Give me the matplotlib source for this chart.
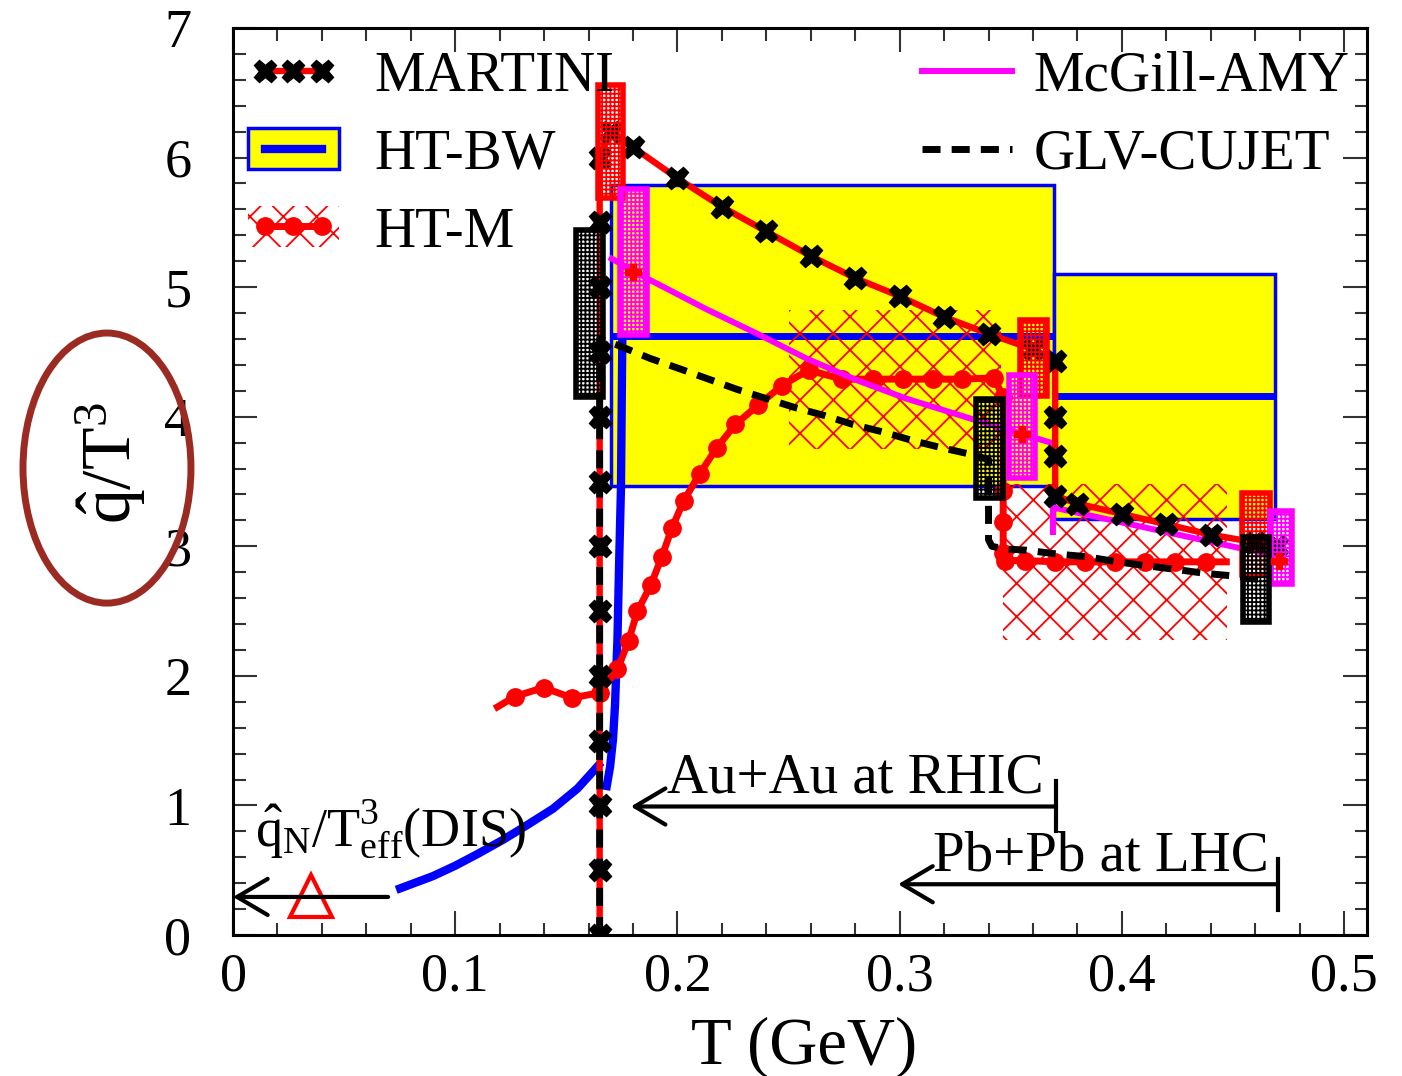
"""
qhat/T^3 vs T for several jet-quenching models (MARTINI, HT-BW, HT-M,
McGill-AMY, GLV-CUJET), values read off the reference figure.
"""

import matplotlib
matplotlib.use("Agg")
import matplotlib.pyplot as plt
from matplotlib.patches import Rectangle, Ellipse
from matplotlib.lines import Line2D
from matplotlib.legend_handler import HandlerTuple

plt.rcParams["font.family"] = ["Liberation Serif", "DejaVu Serif"]
plt.rcParams["mathtext.fontset"] = "custom"
plt.rcParams["mathtext.rm"] = "Liberation Serif"
plt.rcParams["mathtext.it"] = "Liberation Serif:italic"
plt.rcParams["hatch.linewidth"] = 1.3

# -------------------------
# Data (T in GeV, qhat/T^3)
# -------------------------
martini_T = [0.165, 0.165, 0.165, 0.165, 0.165, 0.165, 0.165, 0.165, 0.165,
             0.165, 0.165, 0.165, 0.165, 0.170, 0.180, 0.200, 0.220, 0.240,
             0.260, 0.280, 0.300, 0.320, 0.340, 0.360, 0.370, 0.370, 0.370,
             0.370, 0.380, 0.400, 0.420, 0.440, 0.460, 0.470]
martini_q = [0.0, 0.5, 1.0, 1.5, 2.0, 2.5, 3.0, 3.5, 4.0, 4.5, 5.0, 5.5, 6.0,
             6.20, 6.08, 5.84, 5.62, 5.43, 5.24, 5.07, 4.93, 4.77, 4.64, 4.52,
             4.43, 4.00, 3.70, 3.39, 3.33, 3.25, 3.17, 3.09, 3.03, 3.00]
martini_box_T = [(0.1644, 0.1757), (0.3542, 0.3662), (0.4540, 0.4667)]
martini_box_q = [(5.69, 6.56), (4.16, 4.75), (2.78, 3.41)]

htbw_box_T = [(0.1701, 0.3694), (0.3694, 0.4690)]
htbw_box_q = [(3.465, 5.785), (3.21, 5.10)]
htbw_center = [4.625, 4.16]
htbw_low_T = [0.0752, 0.090, 0.100, 0.110, 0.1215, 0.132, 0.144, 0.155, 0.1645]
htbw_low_q = [0.36, 0.455, 0.535, 0.625, 0.735, 0.845, 0.975, 1.13, 1.31]
htbw_high_T = [0.1682, 0.1697, 0.1710, 0.1719, 0.1730, 0.1738, 0.1746, 0.1752]
htbw_high_q = [1.15, 1.30, 1.51, 1.77, 2.28, 2.90, 3.46, 4.62]

htm_T = [0.119, 0.1267, 0.1398, 0.1525, 0.165, 0.173, 0.178, 0.182, 0.188,
         0.193, 0.1975, 0.2028, 0.210, 0.2177, 0.226, 0.2364, 0.247, 0.259,
         0.274, 0.288, 0.3017, 0.315, 0.328, 0.3425, 0.3466, 0.3466, 0.3466,
         0.3466, 0.3475, 0.3564, 0.370, 0.3834, 0.397, 0.4104, 0.424, 0.438,
         0.447]
htm_q = [1.76, 1.84, 1.91, 1.83, 1.87, 2.05, 2.27, 2.50, 2.70, 2.92, 3.14,
         3.35, 3.56, 3.76, 3.94, 4.09, 4.24, 4.36, 4.29, 4.29, 4.29, 4.29,
         4.29, 4.30, 4.15, 3.43, 3.19, 2.95, 2.89, 2.89, 2.88, 2.88, 2.88,
         2.88, 2.88, 2.88, 2.88]
htm_band_T = [(0.2500, 0.3456), (0.3466, 0.4473)]
htm_band_q = [(3.75, 4.82), (2.28, 3.48)]

amy_T1 = [0.1704, 0.186, 0.213, 0.236, 0.258, 0.281, 0.303, 0.333, 0.368]
amy_q1 = [5.22, 5.07, 4.83, 4.64, 4.45, 4.28, 4.14, 3.98, 3.80]
amy_T2 = [0.369, 0.369, 0.4547, 0.4705]
amy_q2 = [3.11, 3.30, 2.98, 2.93]
amy_pt_T = [0.1802, 0.355, 0.4705]
amy_pt_q = [5.12, 3.87, 2.89]
amy_box_T = [(0.1742, 0.1862), (0.3494, 0.3610), (0.4667, 0.4765)]
amy_box_q = [(4.63, 5.76), (3.53, 4.32), (2.71, 3.27)]

glv_T = [0.165, 0.165, 0.1734, 0.1877, 0.201, 0.214, 0.227, 0.240, 0.253,
         0.266, 0.279, 0.293, 0.306, 0.319, 0.332, 0.340, 0.340, 0.3415,
         0.347, 0.357, 0.371, 0.384, 0.398, 0.411, 0.425, 0.438, 0.451, 0.463]
glv_q = [0.0, 4.60, 4.55, 4.45, 4.37, 4.29, 4.21, 4.14, 4.07, 4.01, 3.94,
         3.88, 3.815, 3.76, 3.71, 3.67, 3.05, 3.00, 2.98, 2.97, 2.94, 2.92,
         2.88, 2.85, 2.82, 2.79, 2.77, 2.74]
glv_box_T = [(0.1542, 0.1667), (0.3344, 0.3464), (0.4544, 0.4664)]
glv_box_q = [(4.15, 5.44), (3.37, 4.14), (2.415, 3.075)]

dis_T = [0.035]
dis_q = [0.30]

x_ticks = [0.0, 0.1, 0.2, 0.3, 0.4, 0.5]
x_ticklabels = ["0", "0.1", "0.2", "0.3", "0.4", "0.5"]
y_ticks = [0, 1, 2, 3, 4, 5, 6, 7]

# -------------------------
# Plot
# -------------------------
fig = plt.figure(figsize=(14.02, 10.76), dpi=100)
ax = fig.add_axes([0.1662, 0.131, 0.8088, 0.843])

# HT-BW boxes
for (t0, t1), (q0, q1), qc in zip(htbw_box_T, htbw_box_q, htbw_center):
    ax.add_patch(Rectangle((t0, q0), t1 - t0, q1 - q0, fc="yellow",
                           ec="blue", lw=2.5, zorder=1))
    ax.plot([t0, t1], [qc, qc], color="blue", lw=5, zorder=1.5,
            solid_capstyle="butt")

# HT-M bands
for (t0, t1), (q0, q1) in zip(htm_band_T, htm_band_q):
    ax.add_patch(Rectangle((t0, q0), t1 - t0, q1 - q0, fill=False,
                           hatch="x", ec="red", lw=0, zorder=2))

# HT-BW curves
ax.plot(htbw_low_T, htbw_low_q, color="blue", lw=6, zorder=3)
ax.plot(htbw_high_T, htbw_high_q, color="blue", lw=6, zorder=3)

# HT-M line
ax.plot(htm_T, htm_q, color="red", lw=5, marker="o", ms=12.5,
        markevery=slice(1, -1), zorder=4)

# McGill-AMY
ax.plot(amy_T1, amy_q1, color="magenta", lw=4.3, zorder=4.5)
ax.plot(amy_T2, amy_q2, color="magenta", lw=4.3, zorder=4.5)

# MARTINI
ax.plot(martini_T, martini_q, color="red", lw=4.6, marker="X", ms=16,
        mfc="black", mec="black", zorder=5)

# GLV-CUJET
ax.plot(glv_T, glv_q, color="black", lw=5, ls=(0, (2.6, 1.6)), zorder=5.5)

# error boxes
for boxes_T, boxes_q, col in [(martini_box_T, martini_box_q, "red"),
                              (amy_box_T, amy_box_q, "magenta"),
                              (glv_box_T, glv_box_q, "black")]:
    for (t0, t1), (q0, q1) in zip(boxes_T, boxes_q):
        ax.add_patch(Rectangle((t0, q0), t1 - t0, q1 - q0, fill=False,
                               hatch="++++", ec=col, lw=4, zorder=6))
ax.plot(amy_pt_T, amy_pt_q, ls="none", marker="P", ms=11, color="red",
        zorder=6.5)

# DIS point
ax.plot(dis_T, dis_q, ls="none", marker="^", ms=30, mfc="none", mec="red",
        mew=3, zorder=7)


def range_arrow(x_tip, x_end, y, bar0, bar1):
    ax.annotate("", xy=(x_tip, y), xytext=(x_end, y),
                arrowprops=dict(arrowstyle="->,head_length=2.2,head_width=1.3",
                                lw=3, color="black", shrinkA=0, shrinkB=0,
                                mutation_scale=10), zorder=7)
    if bar0 is not None:
        ax.plot([x_end, x_end], [bar0, bar1], color="black", lw=3, zorder=7)


range_arrow(0.0, 0.0698, 0.294, None, None)
range_arrow(0.179, 0.3704, 0.992, 0.80, 1.185)
range_arrow(0.2993, 0.4702, 0.392, 0.193, 0.585)

ax.text(0.010, 0.68, r"$\mathrm{\hat{q}_N/T^3_{eff}(DIS)}$", fontsize=39,
        va="baseline", zorder=8)
ax.text(0.1953, 1.10, "Au+Au at RHIC", fontsize=41, va="baseline", zorder=8)
ax.text(0.3149, 0.495, "Pb+Pb at LHC", fontsize=41, va="baseline", zorder=8)

# axes
ax.set_xlim(0, 0.5103)
ax.set_ylim(0, 7.0)
ax.set_xticks(x_ticks)
ax.set_xticklabels(x_ticklabels)
ax.set_yticks(y_ticks)
ax.set_xticks([0.02 * i for i in range(26)], minor=True)
ax.set_yticks([0.2 * i for i in range(36)], minor=True)
ax.tick_params(which="both", direction="in", top=True, right=True,
               width=1.5, color="#333333")
ax.tick_params(which="major", length=17, labelsize=39)
ax.tick_params(which="minor", length=9)
ax.tick_params(axis="x", pad=12)
ax.tick_params(axis="y", pad=30)
for sp in ax.spines.values():
    sp.set_linewidth(2.2)

ax.set_xlabel("T (GeV)", fontsize=48)
ax.xaxis.set_label_coords(0.504, -0.09)
ax.set_ylabel(r"$\mathrm{\hat{q}/T^3}$", fontsize=50)
ax.yaxis.set_label_coords(-0.075, 0.52)

# legends
h_martini = Line2D([], [], color="red", lw=4.6, marker="X", ms=16,
                   mfc="black", mec="black")
h_bw = (Rectangle((0, 0), 1, 1, fc="yellow", ec="blue", lw=2.5),
        Line2D([], [], color="blue", lw=6))
h_htm = (Rectangle((0, 0), 1, 1, fill=False, hatch="x", ec="red", lw=0),
         Line2D([], [], color="red", lw=5, marker="o", ms=12.5))
h_amy = Line2D([], [], color="magenta", lw=4.3)
h_glv = Line2D([], [], color="black", lw=5, ls=(0, (2.6, 1.6)))

leg1 = ax.legend([h_martini, h_bw, h_htm], ["MARTINI", "HT-BW", "HT-M"],
                 handler_map={tuple: HandlerTuple(ndivide=1)},
                 loc="upper left", bbox_to_anchor=(0.013, 0.975),
                 frameon=False, fontsize=41, numpoints=3, borderpad=0,
                 borderaxespad=0, handlelength=1.6, handleheight=0.72,
                 handletextpad=0.62, labelspacing=0.45)
leg1.set_zorder(9)
ax.add_artist(leg1)
leg2 = ax.legend([h_amy, h_glv], ["McGill-AMY", "GLV-CUJET"],
                 loc="upper left", bbox_to_anchor=(0.6076, 0.975),
                 frameon=False, fontsize=41, borderpad=0, borderaxespad=0,
                 handlelength=1.58, handleheight=0.72, handletextpad=0.38,
                 labelspacing=0.45)
leg2.set_zorder(9)

# highlight around the y label
fig.add_artist(Ellipse((0.0763, 0.565), 0.1198, 0.251,
                       transform=fig.transFigure, fill=False,
                       ec="#9b2b22", lw=5, zorder=10))

fig.savefig("out.png", dpi=100)
